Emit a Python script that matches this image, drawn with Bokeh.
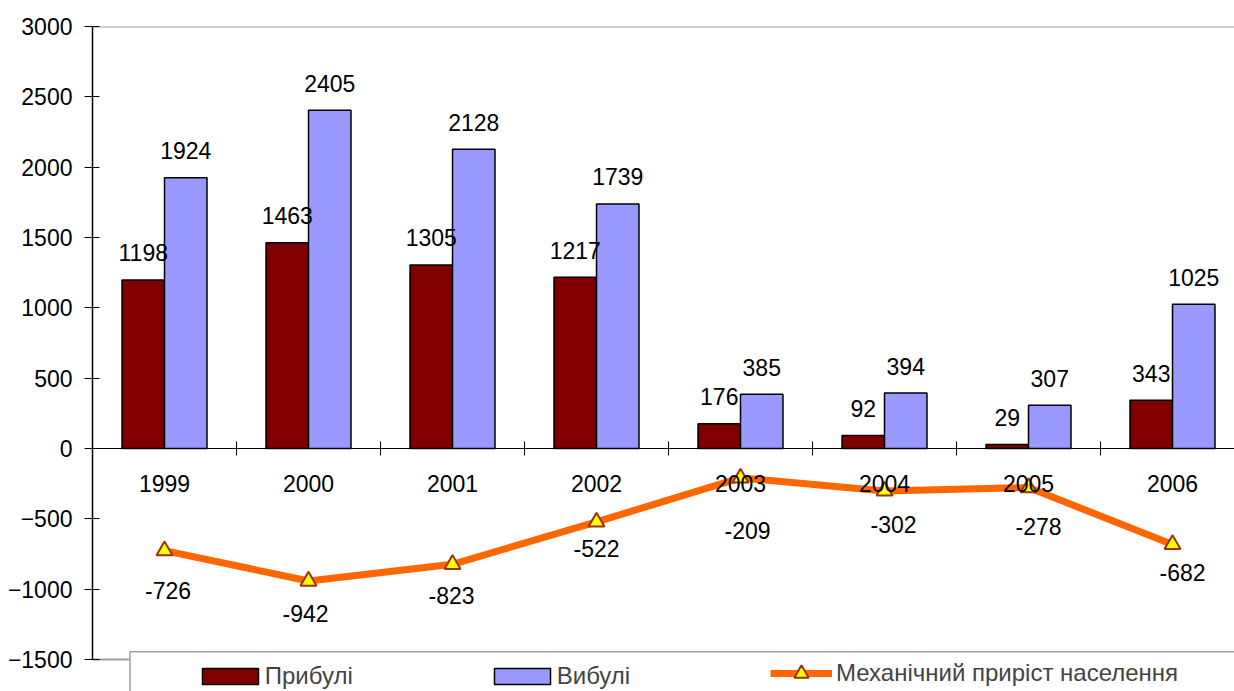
from bokeh.plotting import figure
from bokeh.models import Range1d, FixedTicker, Span, Legend, LegendItem, ColumnDataSource
from bokeh.core.properties import value
from bokeh.embed import file_html
from bokeh.resources import INLINE

# ---------------- data ----------------
years = ["1999", "2000", "2001", "2002", "2003", "2004", "2005", "2006"]
arrivals = [1198, 1463, 1305, 1217, 176, 92, 29, 343]
departures = [1924, 2405, 2128, 1739, 385, 394, 307, 1025]
net_migration = [-726, -942, -823, -522, -209, -302, -278, -682]
y_ticks = [-1500, -1000, -500, 0, 500, 1000, 1500, 2000, 2500, 3000]
series_names = ["Прибулі", "Вибулі", "Механічний приріст населення"]

# ---------------- style ----------------
net_label_dx = [3.5, -3, -1, 0, 7, 9, 10, 10]
net_label_dy = [39.5, 32, 31, 27, 53, 34, 39, 28]

FONT = value("Liberation Sans")
FS = "23px"
n = len(years)
centers = [i + 0.5 for i in range(n)]
bw = 0.295
px_per_unit = 632 / 4500

p = figure(width=1234, height=691,
           x_range=Range1d(0, (1234 - 92) / 144), y_range=Range1d(-1727.5, 3000),
           output_backend="svg", toolbar_location=None, x_axis_type=None,
           min_border=0, min_border_left=92, min_border_right=0,
           min_border_top=26, min_border_bottom=0)
p.outline_line_color = None
p.ygrid.grid_line_color = None
p.background_fill_color = "white"
p.border_fill_color = "white"

# frame lines (top / bottom)
p.add_layout(Span(location=y_ticks[-1], dimension="width", line_color="#a0a0a0",
                  line_width=2, level="underlay"))
p.add_layout(Span(location=y_ticks[0], dimension="width", line_color="#a0a0a0",
                  line_width=2, level="underlay"))

src = ColumnDataSource(dict(
    x1=[c - bw / 2 for c in centers],
    x2=[c + bw / 2 for c in centers],
    xc=centers,
    arr=arrivals, dep=departures, net=net_migration,
    arr_lbl=[str(v) for v in arrivals],
    dep_lbl=[str(v) for v in departures],
    net_lbl=[str(v) for v in net_migration],
    ndx=net_label_dx,
    ndy=net_label_dy,
    yr=years,
))

r1 = p.vbar(x="x1", top="arr", bottom=0, width=bw, source=src,
            fill_color="#800000", line_color="black", line_width=1.5)
r2 = p.vbar(x="x2", top="dep", bottom=0, width=bw, source=src,
            fill_color="#9999FF", line_color="black", line_width=1.5)

p.text(x="x1", y="arr", text="arr_lbl", source=src, y_offset=-27,
       text_align="center", text_baseline="middle",
       text_font=FONT, text_font_size=FS, text_color="black")
p.text(x="x2", y="dep", text="dep_lbl", source=src, y_offset=-27,
       text_align="center", text_baseline="middle",
       text_font=FONT, text_font_size=FS, text_color="black")

# zero axis line and category tick marks
p.add_layout(Span(location=0, dimension="width", line_color="black", line_width=1))
bounds = list(range(1, n))
p.segment(x0=bounds, y0=[-7 / px_per_unit] * len(bounds), x1=bounds,
          y1=[7 / px_per_unit] * len(bounds), line_color="black", line_width=1)

r3 = p.line(x="xc", y="net", source=src, line_color="#FF6600", line_width=7)
r4 = p.scatter(x="xc", y="net", source=src, marker="triangle", size=16,
               fill_color="#FFFF00", line_color="#993300", line_width=2)

p.text(x="xc", y="net", text="net_lbl", source=src, x_offset="ndx", y_offset="ndy",
       text_align="center", text_baseline="middle",
       text_font=FONT, text_font_size=FS, text_color="black")

# category labels (drawn over the line)
p.text(x="xc", y=0, text="yr", source=src, y_offset=35,
       text_align="center", text_baseline="middle",
       text_font=FONT, text_font_size=FS, text_color="black")

# legend box
p.quad(left=[(129.5 - 92) / 144], right=[9], top=[-(651 - 448) / px_per_unit], bottom=[-2000],
       fill_color="white", line_color="#a0a0a0", line_width=1.5)

# y axis
ax = p.yaxis[0]
ax.ticker = FixedTicker(ticks=y_ticks)
ax.bounds = (y_ticks[0], y_ticks[-1])
ax.axis_line_color = "black"
ax.axis_line_width = 1.5
ax.major_tick_line_color = "black"
ax.major_tick_line_width = 1
ax.major_tick_out = 8
ax.major_tick_in = 7
ax.minor_tick_line_color = None
ax.major_label_standoff = 12
ax.major_label_text_font = "Liberation Sans"
ax.major_label_text_font_size = FS
ax.major_label_text_color = "black"

leg1 = Legend(items=[LegendItem(label=series_names[0], renderers=[r1]),
                     LegendItem(label=series_names[1], renderers=[r2])],
              orientation="horizontal", location=(102.7, 1.5),
              glyph_width=70, glyph_height=20, label_standoff=0, spacing=134,
              padding=0, margin=0, border_line_color=None,
              background_fill_alpha=0,
              label_text_font="Liberation Sans", label_text_font_size="24px")
leg2 = Legend(items=[LegendItem(label=series_names[2], renderers=[r3, r4])],
              orientation="horizontal", location=(678, 0),
              glyph_width=62, glyph_height=36, label_standoff=4,
              padding=0, margin=0, border_line_color=None,
              background_fill_alpha=0,
              label_text_font="Liberation Sans", label_text_font_size="24px")
p.add_layout(leg1, "center")
p.add_layout(leg2, "center")

open("out.html", "w").write(file_html(p, INLINE))
